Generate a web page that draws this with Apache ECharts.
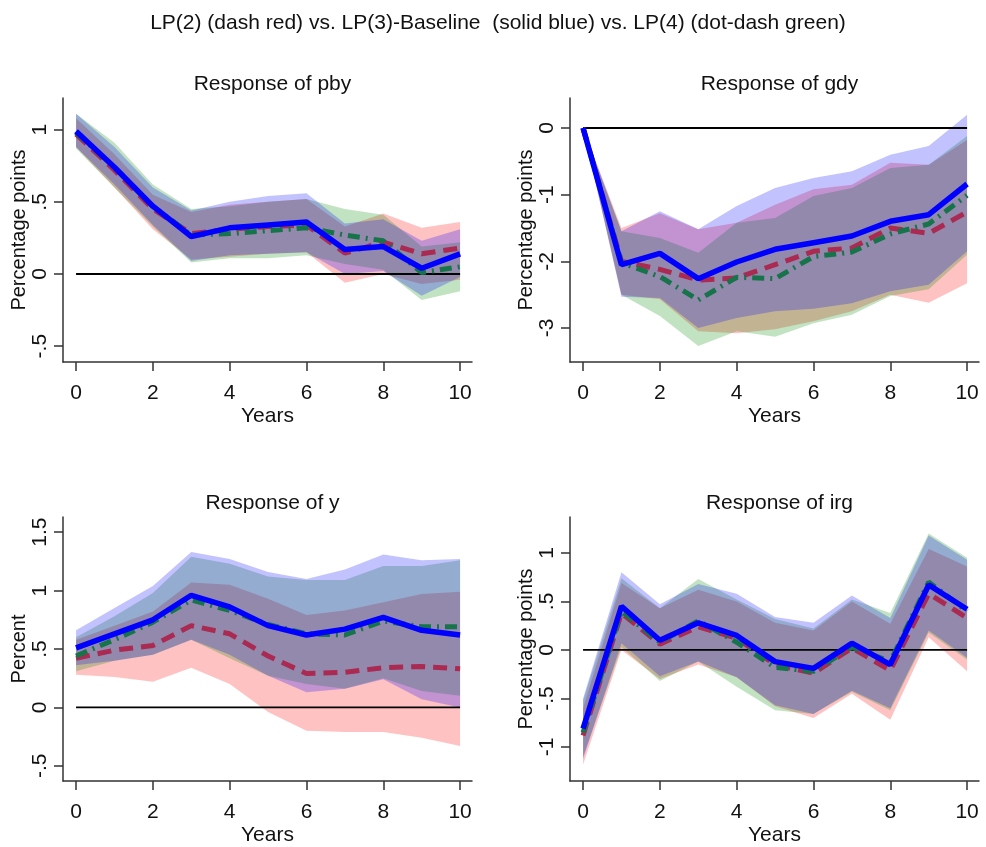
<!DOCTYPE html>
<html>
<head>
<meta charset="utf-8">
<script src="https://cdn.jsdelivr.net/npm/echarts@6/dist/echarts.min.js"></script>
<style>
  html, body { margin: 0; padding: 0; background: #fff; }
  #chart { width: 986px; height: 847px; }
</style>
</head>
<body>
<div id="chart"></div>
<script>
// horizon in years
var YEARS = [0, 1, 2, 3, 4, 5, 6, 7, 8, 9, 10];
var X_TICKS = [0, 2, 4, 6, 8, 10];

// Response of pby
var PBY_LP2    = [0.97, 0.72, 0.45, 0.28, 0.31, 0.33, 0.34, 0.145, 0.22, 0.14, 0.18];
var PBY_LP2_LO = [0.88, 0.60, 0.31, 0.10, 0.12, 0.14, 0.15, -0.06, 0.00, -0.07, -0.04];
var PBY_LP2_HI = [1.08, 0.83, 0.55, 0.43, 0.48, 0.50, 0.52, 0.33, 0.42, 0.32, 0.36];
var PBY_LP3    = [0.99, 0.74, 0.47, 0.26, 0.32, 0.34, 0.36, 0.17, 0.19, 0.04, 0.14];
var PBY_LP3_LO = [0.88, 0.62, 0.34, 0.09, 0.13, 0.14, 0.15, 0.00, 0.02, -0.15, -0.02];
var PBY_LP3_HI = [1.11, 0.88, 0.60, 0.44, 0.50, 0.54, 0.56, 0.35, 0.38, 0.23, 0.31];
var PBY_LP4    = [0.98, 0.74, 0.47, 0.27, 0.28, 0.30, 0.32, 0.27, 0.23, 0.01, 0.05];
var PBY_LP4_LO = [0.87, 0.60, 0.33, 0.08, 0.11, 0.11, 0.13, 0.07, 0.03, -0.18, -0.12];
var PBY_LP4_HI = [1.11, 0.91, 0.62, 0.45, 0.47, 0.50, 0.52, 0.45, 0.41, 0.19, 0.22];
var PBY_TICKS  = [-0.5, 0, 0.5, 1];

// Response of gdy
var GDY_LP2    = [0, -2.00, -2.12, -2.28, -2.25, -2.05, -1.85, -1.80, -1.50, -1.58, -1.26];
var GDY_LP2_LO = [0, -2.50, -2.57, -3.05, -3.08, -3.02, -2.90, -2.75, -2.50, -2.62, -2.33];
var GDY_LP2_HI = [0, -1.50, -1.28, -1.52, -1.42, -1.15, -0.92, -0.85, -0.52, -0.55, -0.18];
var GDY_LP3    = [0, -2.05, -1.88, -2.26, -2.01, -1.82, -1.72, -1.62, -1.40, -1.30, -0.84];
var GDY_LP3_LO = [0, -2.53, -2.55, -3.00, -2.85, -2.75, -2.71, -2.63, -2.45, -2.35, -1.85];
var GDY_LP3_HI = [0, -1.55, -1.25, -1.52, -1.17, -0.90, -0.75, -0.65, -0.40, -0.27, 0.20];
var GDY_LP4    = [0, -2.02, -2.23, -2.58, -2.24, -2.26, -1.93, -1.86, -1.59, -1.44, -1.01];
var GDY_LP4_LO = [0, -2.50, -2.82, -3.27, -3.05, -3.13, -2.93, -2.80, -2.52, -2.42, -1.90];
var GDY_LP4_HI = [0, -1.55, -1.65, -1.87, -1.42, -1.35, -1.02, -0.90, -0.60, -0.55, -0.12];
var GDY_TICKS  = [-3, -2, -1, 0];

// Response of y
var Y_LP2    = [0.42, 0.49, 0.53, 0.70, 0.63, 0.44, 0.29, 0.30, 0.34, 0.35, 0.33];
var Y_LP2_LO = [0.28, 0.26, 0.22, 0.34, 0.20, -0.04, -0.20, -0.21, -0.21, -0.26, -0.33];
var Y_LP2_HI = [0.58, 0.70, 0.82, 1.07, 1.05, 0.93, 0.79, 0.83, 0.90, 0.97, 0.99];
var Y_LP3    = [0.51, 0.63, 0.75, 0.96, 0.86, 0.70, 0.62, 0.67, 0.77, 0.66, 0.62];
var Y_LP3_LO = [0.36, 0.40, 0.45, 0.58, 0.45, 0.27, 0.13, 0.16, 0.24, 0.07, 0.00];
var Y_LP3_HI = [0.66, 0.85, 1.04, 1.33, 1.27, 1.16, 1.10, 1.18, 1.31, 1.26, 1.27];
var Y_LP4    = [0.44, 0.58, 0.73, 0.92, 0.83, 0.71, 0.63, 0.62, 0.74, 0.69, 0.69];
var Y_LP4_LO = [0.31, 0.40, 0.45, 0.58, 0.42, 0.27, 0.20, 0.16, 0.25, 0.14, 0.10];
var Y_LP4_HI = [0.60, 0.78, 0.98, 1.29, 1.23, 1.12, 1.09, 1.09, 1.21, 1.21, 1.26];
var Y_TICKS  = [-0.5, 0, 0.5, 1, 1.5];

// Response of irg
var IRG_LP2    = [-0.88, 0.38, 0.06, 0.24, 0.12, -0.15, -0.24, 0.02, -0.21, 0.58, 0.33];
var IRG_LP2_LO = [-1.18, 0.00, -0.30, -0.15, -0.28, -0.58, -0.70, -0.45, -0.72, 0.13, -0.22];
var IRG_LP2_HI = [-0.60, 0.69, 0.43, 0.62, 0.50, 0.28, 0.20, 0.50, 0.27, 1.04, 0.86];
var IRG_LP3    = [-0.81, 0.45, 0.10, 0.28, 0.15, -0.12, -0.19, 0.07, -0.15, 0.67, 0.42];
var IRG_LP3_LO = [-1.12, 0.07, -0.27, -0.12, -0.28, -0.57, -0.66, -0.42, -0.60, 0.20, -0.08];
var IRG_LP3_HI = [-0.50, 0.80, 0.47, 0.68, 0.58, 0.34, 0.28, 0.56, 0.33, 1.18, 0.93];
var IRG_LP4    = [-0.85, 0.40, 0.08, 0.30, 0.08, -0.18, -0.22, 0.03, -0.12, 0.70, 0.40];
var IRG_LP4_LO = [-1.10, 0.03, -0.32, -0.12, -0.38, -0.62, -0.66, -0.43, -0.62, 0.18, -0.10];
var IRG_LP4_HI = [-0.52, 0.74, 0.43, 0.73, 0.52, 0.32, 0.22, 0.52, 0.38, 1.20, 0.95];
var IRG_TICKS  = [-1, -0.5, 0, 0.5, 1];

var FONT = "'Liberation Sans', Arial, sans-serif";

var panels = [
    { title: 'Response of pby', yName: 'Percentage points', left: 63, top: 98, min: -0.61, max: 1.22, ticks: PBY_TICKS,
      lp2: PBY_LP2, lp2lo: PBY_LP2_LO, lp2hi: PBY_LP2_HI, lp3: PBY_LP3, lp3lo: PBY_LP3_LO, lp3hi: PBY_LP3_HI,
      lp4: PBY_LP4, lp4lo: PBY_LP4_LO, lp4hi: PBY_LP4_HI },
    { title: 'Response of gdy', yName: 'Percentage points', left: 570, top: 98, min: -3.51, max: 0.45, ticks: GDY_TICKS,
      lp2: GDY_LP2, lp2lo: GDY_LP2_LO, lp2hi: GDY_LP2_HI, lp3: GDY_LP3, lp3lo: GDY_LP3_LO, lp3hi: GDY_LP3_HI,
      lp4: GDY_LP4, lp4lo: GDY_LP4_LO, lp4hi: GDY_LP4_HI },
    { title: 'Response of y', yName: 'Percent', left: 63, top: 517, min: -0.63, max: 1.63, ticks: Y_TICKS,
      lp2: Y_LP2, lp2lo: Y_LP2_LO, lp2hi: Y_LP2_HI, lp3: Y_LP3, lp3lo: Y_LP3_LO, lp3hi: Y_LP3_HI,
      lp4: Y_LP4, lp4lo: Y_LP4_LO, lp4hi: Y_LP4_HI },
    { title: 'Response of irg', yName: 'Percentage points', left: 570, top: 517, min: -1.35, max: 1.37, ticks: IRG_TICKS,
      lp2: IRG_LP2, lp2lo: IRG_LP2_LO, lp2hi: IRG_LP2_HI, lp3: IRG_LP3, lp3lo: IRG_LP3_LO, lp3hi: IRG_LP3_HI,
      lp4: IRG_LP4, lp4lo: IRG_LP4_LO, lp4hi: IRG_LP4_HI }
];

var PLOT_W = 409, PLOT_H = 264;

function pairs(vals) {
    return YEARS.map(function(x, i) { return [x, vals[i]]; });
}

// confidence band drawn as one polygon: upper edge left->right, lower edge back
function band(idx, lo, hi, color) {
    return {
        type: 'custom', xAxisIndex: idx, yAxisIndex: idx, silent: true,
        data: YEARS.map(function(x, i) { return [x, lo[i], hi[i]]; }),
        encode: { x: 0, y: [1, 2] },
        renderItem: function(params, api) {
            if (params.dataIndex !== 0) return;
            var pts = [];
            for (var i = 0; i < YEARS.length; i++) pts.push(api.coord([YEARS[i], hi[i]]));
            for (var j = YEARS.length - 1; j >= 0; j--) pts.push(api.coord([YEARS[j], lo[j]]));
            return { type: 'polygon', shape: { points: pts }, style: { fill: color } };
        }
    };
}

function yLabel(v) {
    return String(v).replace(/^(-?)0\./, '$1.');
}

var grids = [], xAxes = [], yAxes = [], titles = [], series = [];

titles.push({
    text: 'LP(2) (dash red) vs. LP(3)-Baseline  (solid blue) vs. LP(4) (dot-dash green)',
    left: 493, top: 8, textAlign: 'center',
    textStyle: { fontFamily: FONT, fontSize: 21, fontWeight: 'normal', color: '#111' }
});

panels.forEach(function(p, i) {
    grids.push({ left: p.left, top: p.top, width: PLOT_W, height: PLOT_H });
    titles.push({
        text: p.title, left: p.left + PLOT_W / 2, top: p.top - 29, textAlign: 'center',
        textStyle: { fontFamily: FONT, fontSize: 21, fontWeight: 'normal', color: '#111' }
    });
    xAxes.push({
        type: 'value', gridIndex: i, min: -0.34, max: 10.31,
        name: 'Years', nameLocation: 'middle', nameGap: 44,
        nameTextStyle: { fontFamily: FONT, fontSize: 21, color: '#111' },
        axisLine: { onZero: false, lineStyle: { color: '#333', width: 1.5 } },
        axisTick: { length: 9, lineStyle: { color: '#333', width: 1.5 }, customValues: X_TICKS },
        axisLabel: { fontFamily: FONT, fontSize: 21, color: '#111', margin: 21, customValues: X_TICKS },
        splitLine: { show: false }
    });
    yAxes.push({
        type: 'value', gridIndex: i, min: p.min, max: p.max,
        name: p.yName, nameLocation: 'middle', nameGap: 32, nameRotate: 90,
        nameTextStyle: { fontFamily: FONT, fontSize: 20, color: '#111' },
        axisLine: { show: true, onZero: false, lineStyle: { color: '#333', width: 1.5 } },
        axisTick: { show: true, length: 9, lineStyle: { color: '#333', width: 1.5 }, customValues: p.ticks },
        axisLabel: { fontFamily: FONT, fontSize: 21, color: '#111', rotate: 90, margin: 12,
                     customValues: p.ticks, formatter: yLabel },
        splitLine: { show: false }
    });

    series.push(band(i, p.lp2lo, p.lp2hi, 'rgba(255,0,0,0.24)'));
    series.push(band(i, p.lp4lo, p.lp4hi, 'rgba(0,140,0,0.24)'));
    series.push(band(i, p.lp3lo, p.lp3hi, 'rgba(0,0,255,0.24)'));

    // zero reference line
    series.push({
        type: 'line', xAxisIndex: i, yAxisIndex: i, symbol: 'none', silent: true,
        data: pairs(YEARS.map(function() { return 0; })),
        lineStyle: { color: '#000', width: 1.8 }
    });
    series.push({
        type: 'line', xAxisIndex: i, yAxisIndex: i, symbol: 'none', name: 'LP(2)',
        data: pairs(p.lp2),
        lineStyle: { color: '#aa2a52', width: 5, type: [14, 8] }
    });
    series.push({
        type: 'line', xAxisIndex: i, yAxisIndex: i, symbol: 'none', name: 'LP(4)',
        data: pairs(p.lp4),
        lineStyle: { color: '#17744a', width: 5, type: [12, 6, 2, 6] }
    });
    series.push({
        type: 'line', xAxisIndex: i, yAxisIndex: i, symbol: 'none', name: 'LP(3)',
        data: pairs(p.lp3),
        lineStyle: { color: '#0000ff', width: 5.5 }
    });
});

var chart = echarts.init(document.getElementById('chart'), null, { renderer: 'canvas' });
chart.setOption({
    animation: false,
    backgroundColor: '#fff',
    title: titles,
    grid: grids,
    xAxis: xAxes,
    yAxis: yAxes,
    series: series
});
</script>
</body>
</html>
